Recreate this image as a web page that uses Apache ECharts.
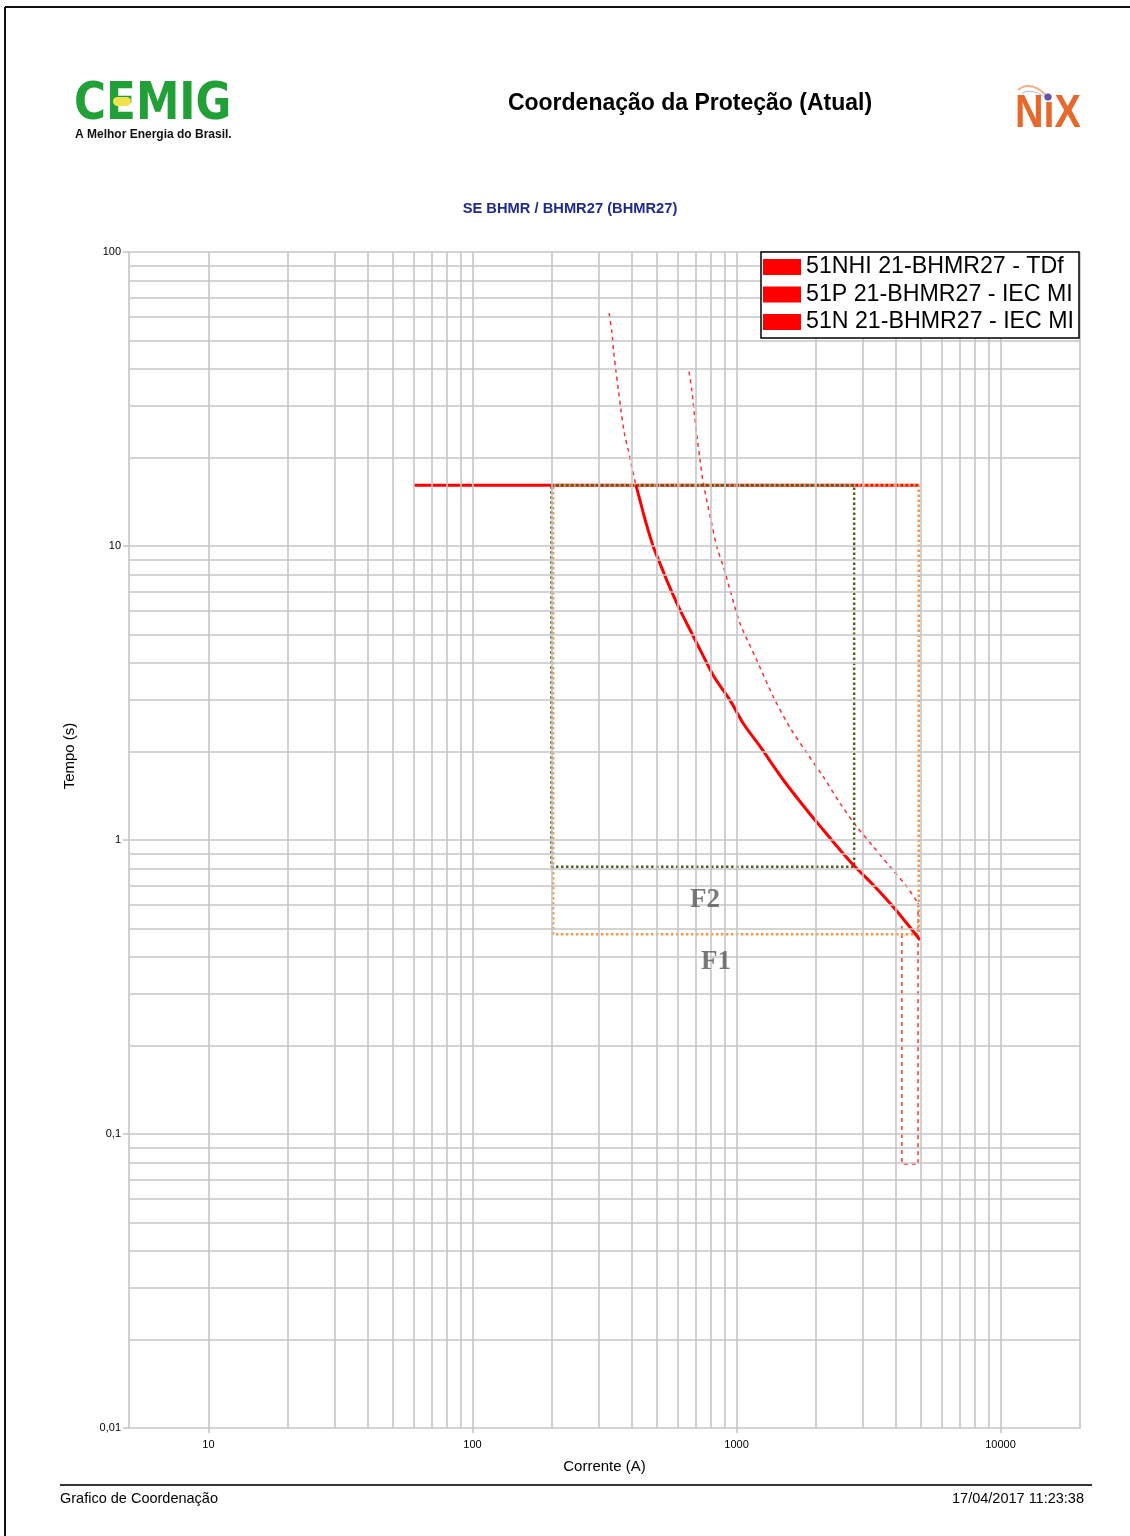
<!DOCTYPE html>
<html><head><meta charset="utf-8">
<script src="https://cdn.jsdelivr.net/npm/echarts@6/dist/echarts.min.js"></script>
<style>html,body{margin:0;padding:0;background:#fff}#c{width:1130px;height:1536px}</style>
</head><body><div id="c"></div>
<script>
// ---------- data (current in A, time in s) ----------
const legendNames = ['51NHI 21-BHMR27 - TDf', '51P 21-BHMR27 - IEC MI', '51N 21-BHMR27 - IEC MI'];

// 51NHI definite time
const nhiCurrent = [60, 4900];
const nhiTime = [16.1, 16.1];

// 51N IEC MI - part above the definite time (dashed)
const nUpperCurrent = [329, 337, 342, 349, 357, 365, 376, 389, 401, 416];
const nUpperTime = [61.9, 53.6, 46.4, 39.7, 33.9, 29.0, 24.2, 21.2, 18.6, 16.1];

// 51N IEC MI - operating part (solid)
const nLowerCurrent = [416, 431, 444, 463, 484, 513, 544, 611, 677, 739, 822, 945, 1061, 1228, 1505, 1845, 2133, 2468, 2812, 3298, 3816, 4414, 4957];
const nLowerTime = [16.1, 14.3, 12.9, 11.3, 9.95, 8.73, 7.66, 6.06, 5.05, 4.32, 3.59, 2.99, 2.49, 2.08, 1.60, 1.265, 1.081, 0.925, 0.811, 0.703, 0.609, 0.521, 0.457];

// 51N instantaneous step (dashed)
const nInstCurrent = [4230, 4230, 4870];
const nInstTime = [0.51, 0.079, 0.079];

// 51P IEC MI (dashed)
const pCurrent = [661, 677, 692, 711, 728, 749, 806, 842, 892, 945, 1031, 1193, 1379, 1591, 1845, 2133, 2468, 2853, 3298, 3816, 4414, 4870];
const pTime = [39.2, 33.9, 28.3, 22.9, 19.6, 16.3, 11.9, 9.95, 8.5, 7.09, 5.46, 4.09, 3.07, 2.42, 1.98, 1.64, 1.333, 1.11, 0.949, 0.811, 0.694, 0.61];
const pDropCurrent = [4870, 4870];
const pDropTime = [0.61, 0.079];

// Fault regions
const f1Current = [202, 4900, 4900, 202, 202];
const f1Time = [16.1, 16.1, 0.478, 0.478, 16.1];
const f2Current = [199, 2790, 2790, 199, 199];
const f2Time = [16.1, 16.1, 0.811, 0.811, 16.1];
const faultNames = ['F2', 'F1'];
const faultCurrent = [760, 836];
const faultTime = [0.625, 0.385];

// Axes
const xMin = 5, xMax = 20000, yMin = 0.01, yMax = 100;
const xTickValues = [10, 100, 1000, 10000];
const xTickLabels = ['10', '100', '1000', '10000'];
const yTickValues = [0.01, 0.1, 1, 10, 100];
const yTickLabels = ['0,01', '0,1', '1', '10', '100'];

// ---------- build ----------
const pairs = (xs, ys) => xs.map((x, i) => [x, ys[i]]);
function labelFor(values, labels) {
  return v => {
    for (let i = 0; i < values.length; i++) {
      if (Math.abs(Math.log10(v) - Math.log10(values[i])) < 0.005) return labels[i];
    }
    return '';
  };
}
// grid lines at 1..9 multiples of each decade
const xGrid = [], yGrid = [];
for (let d = 10; d < 10000; d *= 10) for (let m = 1; m <= 9; m++) xGrid.push(+(m * d).toPrecision(6));
xGrid.push(10000, 20000);
for (let e = -2; e < 2; e++) { const d = Math.pow(10, e); for (let m = 1; m <= 9; m++) { if (e === -2 && m === 1) continue; yGrid.push(+(m * d).toPrecision(6)); } }
yGrid.push(100);

const RED = '#ff0000';
const DASH_RED = '#ff3030';
const FONT = '"Liberation Sans", Arial, sans-serif';
const DASH = { color: DASH_RED, width: 1.5, type: [4, 4] };

const chart = echarts.init(document.getElementById('c'), null, { renderer: 'canvas' });

const option = {
  animation: false,
  backgroundColor: '#ffffff',
  textStyle: { fontFamily: FONT },
  grid: { left: 129, top: 252, right: 50, bottom: 108 },
  xAxis: {
    type: 'log', logBase: 10, min: xMin, max: xMax,
    axisLine: { show: true, lineStyle: { color: '#c6c6c6', width: 1.6 } },
    axisTick: { show: true, length: 5, lineStyle: { color: '#c6c6c6', width: 1.6 } },
    splitLine: { show: false },
    axisLabel: { formatter: labelFor(xTickValues, xTickLabels), fontSize: 11, color: '#000', margin: 11, showMinLabel: false, showMaxLabel: false, fontFamily: FONT },
    name: 'Corrente (A)', nameLocation: 'middle', nameGap: 31,
    nameTextStyle: { fontSize: 15, color: '#000', fontFamily: FONT }
  },
  yAxis: {
    type: 'log', logBase: 10, min: yMin, max: yMax,
    axisLine: { show: true, lineStyle: { color: '#c6c6c6', width: 1.6 } },
    axisTick: { show: true, length: 6, lineStyle: { color: '#c6c6c6', width: 1.6 } },
    splitLine: { show: false },
    axisLabel: { formatter: labelFor(yTickValues, yTickLabels), fontSize: 11, color: '#000', margin: 8, fontFamily: FONT }
  },
  legend: {
    data: legendNames.map(n => ({ name: n, icon: 'rect', itemStyle: { color: RED, borderWidth: 0 } })),
    orient: 'vertical', left: 761, top: 252,
    itemWidth: 38, itemHeight: 16, itemGap: 3.5,
    padding: [3, 5, 4, 2],
    borderColor: '#000', borderWidth: 1.5, backgroundColor: '#fff',
    selectedMode: false, z: 10,
    textStyle: { fontSize: 23.2, color: '#000', fontFamily: FONT, lineHeight: 24 }
  },
  series: [
    {
      name: 'grid', type: 'line', data: [[xMin, yMin]], symbol: 'none', silent: true,
      lineStyle: { opacity: 0 }, z: 1,
      markLine: {
        silent: true, symbol: ['none', 'none'], label: { show: false },
        lineStyle: { color: '#c6c6c6', width: 1.6, type: 'solid' },
        emphasis: { disabled: true },
        data: xGrid.map(v => ({ xAxis: v })).concat(yGrid.map(v => ({ yAxis: v })))
      }
    },
    { name: legendNames[0], type: 'line', data: pairs(nhiCurrent, nhiTime), symbol: 'none', silent: true, itemStyle: { color: RED }, lineStyle: { color: RED, width: 3 }, z: 2 },
    { name: legendNames[2], type: 'line', data: pairs(nUpperCurrent, nUpperTime), symbol: 'none', smooth: 0.3, silent: true, itemStyle: { color: RED }, lineStyle: DASH, z: 2 },
    { name: legendNames[1], type: 'line', data: pairs(pCurrent, pTime), symbol: 'none', smooth: 0.3, silent: true, itemStyle: { color: RED }, lineStyle: DASH, z: 2 },
    { name: legendNames[1], type: 'line', data: pairs(pDropCurrent, pDropTime), symbol: 'none', silent: true, itemStyle: { color: RED }, lineStyle: DASH, z: 2 },
    { name: legendNames[2], type: 'line', data: pairs(nInstCurrent, nInstTime), symbol: 'none', silent: true, itemStyle: { color: RED }, lineStyle: DASH, z: 2 },
    { name: 'F1', type: 'line', data: pairs(f1Current, f1Time), symbol: 'none', silent: true, lineStyle: { color: '#f79646', width: 2.5, type: 'dotted' }, z: 3 },
    { name: 'F2', type: 'line', data: pairs(f2Current, f2Time), symbol: 'none', silent: true, lineStyle: { color: '#4f6228', width: 2.5, type: 'dotted' }, z: 3 },
    { name: legendNames[2], type: 'line', data: pairs(nLowerCurrent, nLowerTime), symbol: 'none', smooth: 0.3, silent: true, itemStyle: { color: RED }, lineStyle: { color: RED, width: 3 }, z: 4 },
    {
      name: 'labels', type: 'scatter', silent: true, symbolSize: 1, z: 5,
      itemStyle: { color: 'rgba(0,0,0,0)' },
      data: faultNames.map((n, i) => ({ name: n, value: [faultCurrent[i], faultTime[i]] })),
      label: { show: true, position: 'inside', formatter: p => p.name, fontFamily: '"Liberation Serif", "Times New Roman", serif', fontWeight: 'bold', fontSize: 27, color: '#595959' }
    }
  ],
  graphic: [
    // page border
    { type: 'line', shape: { x1: 5, y1: 7, x2: 1130, y2: 7 }, style: { stroke: '#111', lineWidth: 2 }, silent: true },
    { type: 'line', shape: { x1: 5, y1: 7, x2: 5, y2: 1536 }, style: { stroke: '#111', lineWidth: 2 }, silent: true },
    // CEMIG logo
    { type: 'text', x: 74, y: 79, scaleX: 0.84, style: { text: 'CEMIG', x: 0, y: 0, font: 'bold 52px "DejaVu Sans", sans-serif', fill: '#22a038', align: 'left', verticalAlign: 'top' }, silent: true },
    { type: 'rect', shape: { x: 113, y: 97, width: 18, height: 9, r: 4.5 }, style: { fill: '#f1e34c' }, silent: true },
    { type: 'text', x: 75, y: 135, style: { text: 'A Melhor Energia do Brasil.', font: 'bold 12px ' + FONT, fill: '#111', align: 'left', verticalAlign: 'middle' }, silent: true },
    // title
    { type: 'text', x: 690, y: 104, style: { text: 'Coordenação da Proteção (Atual)', font: 'bold 23px ' + FONT, fill: '#000', align: 'center', verticalAlign: 'middle' }, silent: true },
    // NIX logo
    { type: 'bezierCurve', shape: { x1: 1018, y1: 90, cpx1: 1030, cpy1: 80, x2: 1046, y2: 95 }, style: { stroke: '#f3b083', lineWidth: 2, fill: null }, silent: true },
    { type: 'bezierCurve', shape: { x1: 1022, y1: 93, cpx1: 1032, cpy1: 88, x2: 1045, y2: 97 }, style: { stroke: '#b7b7d8', lineWidth: 1, fill: null }, silent: true },
    { type: 'text', x: 1015, y: 91, scaleX: 0.86, style: { text: 'NıX', x: 0, y: 0, font: 'bold 46px ' + FONT, fill: '#e8672b', align: 'left', verticalAlign: 'top' }, silent: true },
    { type: 'circle', shape: { cx: 1048, cy: 97, r: 3.6 }, style: { fill: '#6a4fb0' }, silent: true },
    // subtitle
    { type: 'text', x: 570, y: 209, style: { text: 'SE BHMR / BHMR27 (BHMR27)', font: 'bold 14.7px ' + FONT, fill: '#1f2a8f', align: 'center', verticalAlign: 'middle' }, silent: true },
    // y axis title
    { type: 'text', x: 70, y: 756, rotation: Math.PI / 2, style: { text: 'Tempo (s)', font: '15px ' + FONT, fill: '#000', align: 'center', verticalAlign: 'middle' }, silent: true },
    // footer
    { type: 'line', shape: { x1: 60, y1: 1485, x2: 1092, y2: 1485 }, style: { stroke: '#333', lineWidth: 2 }, silent: true },
    { type: 'text', x: 60, y: 1499, style: { text: 'Grafico de Coordenação', font: '14.5px ' + FONT, fill: '#000', align: 'left', verticalAlign: 'middle' }, silent: true },
    { type: 'text', x: 1084, y: 1499, style: { text: '17/04/2017 11:23:38', font: '14.5px ' + FONT, fill: '#000', align: 'right', verticalAlign: 'middle' }, silent: true }
  ]
};
chart.setOption(option);
</script>
</body></html>
